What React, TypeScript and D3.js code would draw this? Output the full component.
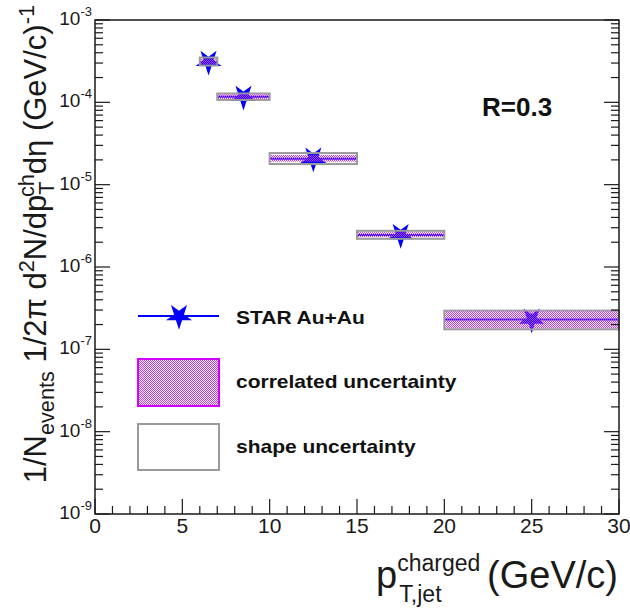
import React from "react";
import * as d3 from "d3";

// Jet bins in p_T (GeV/c) and the measured per-event yields
const binLow = [6, 7, 10, 15, 20];
const binHigh = [7, 10, 15, 20, 30];
const xCenter = [6.5, 8.5, 12.5, 17.5, 25];
const yieldVal = [3.1e-4, 1.17e-4, 2.07e-5, 2.45e-6, 2.3e-7];
// correlated uncertainty band
const corrLow = [2.9e-4, 1.1e-4, 1.9e-5, 2.3e-6, 1.8e-7];
const corrHigh = [3.35e-4, 1.25e-4, 2.3e-5, 2.65e-6, 2.9e-7];
// shape uncertainty band
const shapeLow = [2.8e-4, 1.07e-4, 1.78e-5, 2.2e-6, 1.75e-7];
const shapeHigh = [3.5e-4, 1.28e-4, 2.42e-5, 2.75e-6, 2.95e-7];

const xTicks = [0, 5, 10, 15, 20, 25, 30];
const yDecades = [-9, -8, -7, -6, -5, -4, -3];

const legendLabels = ["STAR Au+Au", "correlated uncertainty", "shape uncertainty"];
const radiusLabel = "R=0.3";

const W = 630;
const H = 608;
const M = { left: 95, right: 619, top: 20, bottom: 514 };
const FONT = "'Liberation Sans', Arial, Helvetica, sans-serif";
const BLUE = "#0000ff";
const MAGENTA = "#d400ff";
const DOT = "#cc33ee";
const GRAY = "#9a9a9a";
const INK = "#1a1a1a";

const x = d3.scaleLinear().domain([0, 30]).range([M.left, M.right]);
const y = d3.scaleLog().domain([1e-9, 1e-3]).range([M.bottom, M.top]);

const starPath = d3.symbol(d3.symbolStar, 210)() as string;

function Star({ cx, cy }: { cx: number; cy: number }) {
  return <path d={starPath} transform={`translate(${cx},${cy}) rotate(180)`} fill={BLUE} />;
}

export default function App() {
  const minorX = d3.range(0, 31).filter((v) => v % 5 !== 0);
  const minorY: number[] = [];
  yDecades.slice(0, -1).forEach((e) => {
    for (let k = 2; k <= 9; k++) minorY.push(k * Math.pow(10, e));
  });

  const s = 31; // y title font size
  const sub = 0.7 * s;

  return (
    <svg width={W} height={H} style={{ display: "block", position: "absolute", left: 0, top: 0 }}>
      <defs>
        <pattern id="dots" width="2" height="2" patternUnits="userSpaceOnUse">
          <rect x="0" y="0" width="1" height="1" fill={DOT} />
          <rect x="1" y="1" width="1" height="1" fill={DOT} />
        </pattern>
      </defs>
      <rect width={W} height={H} fill="#fff" />

      {/* data: x error bars and markers */}
      {xCenter.map((xc, i) => (
        <g key={"pt" + i}>
          <line x1={x(binLow[i])} x2={x(binHigh[i])} y1={y(yieldVal[i])} y2={y(yieldVal[i])} stroke={BLUE} strokeWidth={2} />
          <Star cx={x(xc)} cy={y(yieldVal[i])} />
        </g>
      ))}
      {/* uncertainty boxes */}
      {xCenter.map((_, i) => (
        <g key={"box" + i}>
          <rect
            x={x(binLow[i])}
            y={y(shapeHigh[i])}
            width={x(binHigh[i]) - x(binLow[i])}
            height={y(shapeLow[i]) - y(shapeHigh[i])}
            fill="none"
            stroke={GRAY}
            strokeWidth={2}
          />
          <rect
            x={x(binLow[i]) + 1}
            y={y(corrHigh[i])}
            width={x(binHigh[i]) - x(binLow[i]) - 2}
            height={y(corrLow[i]) - y(corrHigh[i])}
            fill="url(#dots)"
            stroke="none"
          />
        </g>
      ))}

      {/* frame */}
      <rect x={M.left} y={M.top} width={M.right - M.left} height={M.bottom - M.top} fill="none" stroke={INK} strokeWidth={1.5} />

      {/* x ticks */}
      {xTicks.map((t) => (
        <line key={"xt" + t} x1={x(t)} x2={x(t)} y1={M.bottom} y2={M.bottom - 15} stroke={INK} strokeWidth={1.2} />
      ))}
      {minorX.map((t) => (
        <line key={"xm" + t} x1={x(t)} x2={x(t)} y1={M.bottom} y2={M.bottom - 8} stroke={INK} strokeWidth={1.2} />
      ))}
      {xTicks.map((t) => (
        <text key={"xl" + t} x={x(t)} y={M.bottom + 19} textAnchor="middle" fontFamily={FONT} fontSize={21} fill={INK}>
          {t}
        </text>
      ))}

      {/* y ticks, both sides */}
      {yDecades.map((e) => {
        const yy = y(Math.pow(10, e));
        return (
          <g key={"yt" + e}>
            <line x1={M.left} x2={M.left + 15} y1={yy} y2={yy} stroke={INK} strokeWidth={1.2} />
            <line x1={M.right} x2={M.right - 15} y1={yy} y2={yy} stroke={INK} strokeWidth={1.2} />
            <text x={M.left - 3} y={yy + 5} textAnchor="end" fontFamily={FONT} fontSize={19} fill={INK}>
              10<tspan dy={-9} fontSize={13}>{e}</tspan>
            </text>
          </g>
        );
      })}
      {minorY.map((v, i) => (
        <g key={"ym" + i}>
          <line x1={M.left} x2={M.left + 8} y1={y(v)} y2={y(v)} stroke={INK} strokeWidth={1.2} />
          <line x1={M.right} x2={M.right - 8} y1={y(v)} y2={y(v)} stroke={INK} strokeWidth={1.2} />
        </g>
      ))}

      {/* x title */}
      <text x={618} y={588} textAnchor="end" fontFamily={FONT} fontSize={38} fill={INK}>
        p
        <tspan dy={-17} fontSize={23}>charged</tspan>
        <tspan dx={-81} dy={31} fontSize={23}>T,jet</tspan>
        <tspan dx={35} dy={-14}> (GeV/c)</tspan>
      </text>

      {/* y title */}
      <text transform="translate(46,5) rotate(-90)" textAnchor="end" fontFamily={FONT} fontSize={s} fill={INK}>
        1/N
        <tspan dy={8} fontSize={sub}>events</tspan>
        <tspan dy={-8}> 1/2π d</tspan>
        <tspan dy={-12} fontSize={sub}>2</tspan>
        <tspan dy={12}>N/dp</tspan>
        <tspan dy={8} fontSize={sub}>T</tspan>
        <tspan dx={-0.611 * sub} dy={-20} fontSize={sub}>ch</tspan>
        <tspan dy={12}>dη (GeV/c)</tspan>
        <tspan dy={-12} fontSize={sub}>-1</tspan>
      </text>

      {/* legend */}
      <line x1={138} x2={219} y1={316} y2={316} stroke={BLUE} strokeWidth={2} />
      <Star cx={179} cy={316} />
      <rect x={138} y={359} width={81} height={47} fill="#fff" />
      <rect x={138} y={359} width={81} height={47} fill="url(#dots)" stroke={MAGENTA} strokeWidth={2} />
      <rect x={138} y={424} width={81} height={46} fill="none" stroke={GRAY} strokeWidth={2} />
      {legendLabels.map((l, i) => (
        <text
          key={l}
          transform={`translate(236,${[324, 388, 453][i]}) scale(1.2,1)`}
          fontFamily={FONT}
          fontWeight="bold"
          fontSize={17.5}
          fill="#111"
        >
          {l}
        </text>
      ))}

      <text x={482} y={116} fontFamily={FONT} fontWeight="bold" fontSize={26} fill="#111">
        {radiusLabel}
      </text>
    </svg>
  );
}
